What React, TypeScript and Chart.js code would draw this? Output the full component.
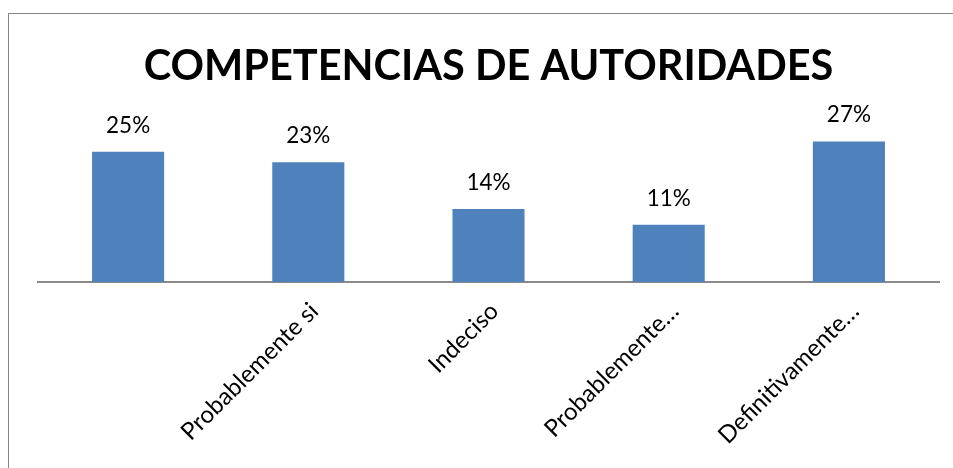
import React, { useEffect, useRef } from 'react';
import { Chart, registerables } from 'chart.js';

Chart.register(...registerables);

const TITLE = 'COMPETENCIAS DE AUTORIDADES';
const categories = ['', 'Probablemente si', 'Indeciso', 'Probablemente…', 'Definitivamente…'];
const values = [25, 23, 14, 11, 27];
const yMax = 30;

const FONT = 'Lato, "Open Sans", sans-serif';
const BAR_COLOR = '#4F81BD';

export default function App() {
  const ref = useRef<HTMLCanvasElement>(null);

  useEffect(() => {
    if (!ref.current) return;
    const labelPlugin = {
      id: 'valueLabels',
      afterDatasetsDraw(chart: any) {
        const ctx = chart.ctx;
        const meta = chart.getDatasetMeta(0);
        ctx.save();
        ctx.font = `22.5px ${FONT}`;
        ctx.fillStyle = '#000';
        ctx.textAlign = 'center';
        ctx.textBaseline = 'alphabetic';
        meta.data.forEach((bar: any, i: number) => {
          ctx.fillText(`${values[i]}%`, bar.x, bar.y - 19);
        });
        ctx.restore();
      },
    };

    const chart = new Chart(ref.current, {
      type: 'bar',
      data: {
        labels: categories,
        datasets: [
          {
            data: values,
            backgroundColor: BAR_COLOR,
            borderWidth: 0,
            categoryPercentage: 1,
            barPercentage: 0.4,
          },
        ],
      },
      options: {
        animation: false,
        responsive: true,
        maintainAspectRatio: false,
        layout: { padding: { left: 29, right: 14, top: 0, bottom: 0 } },
        plugins: {
          legend: { display: false },
          tooltip: { enabled: false },
          title: {
            display: true,
            text: TITLE,
            color: '#000',
            font: { family: FONT, size: 41.5, weight: 'bold', lineHeight: 1.2 },
            padding: { top: 28.1, bottom: 33.9 },
          },
        },
        scales: {
          x: {
            grid: { display: false, drawTicks: false },
            border: { display: true, color: '#8a8a8a', width: 2 },
            ticks: {
              autoSkip: false,
              minRotation: 45,
              maxRotation: 45,
              color: '#000',
              font: { family: FONT, size: 24 },
              padding: 15,
              labelOffset: 6,
            },
            afterFit: (scale: any) => {
              scale.height = 186;
            },
          },
          y: {
            display: false,
            min: 0,
            max: yMax,
          },
        },
      },
      plugins: [labelPlugin],
    });
    return () => chart.destroy();
  }, []);

  return (
    <div
      style={{
        position: 'fixed',
        left: 8,
        top: 13,
        width: 1000,
        height: 520,
        border: '1px solid #868686',
        background: '#fff',
      }}
    >
      <div style={{ position: 'relative', width: 944, height: 454 }}>
        <canvas ref={ref} />
      </div>
    </div>
  );
}
